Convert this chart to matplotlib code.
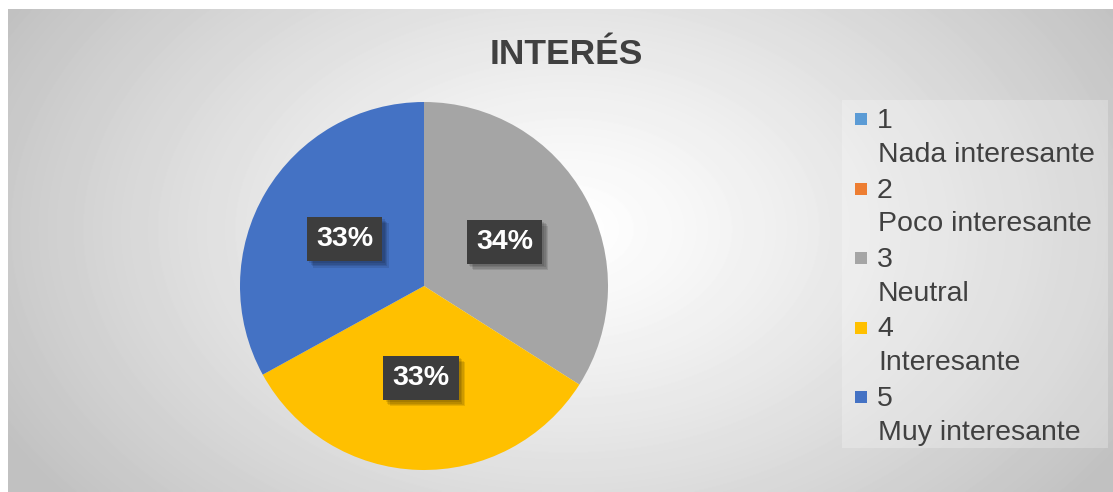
import matplotlib.pyplot as plt
import matplotlib.patheffects as pe
from matplotlib.patches import Rectangle
import numpy as np

plt.rcParams['font.family'] = ['Liberation Sans', 'DejaVu Sans']

# chart data
title = "INTERÉS"
codes = ["1", "2", "3", "4", "5"]
names = ["Nada interesante", "Poco interesante", "Neutral", "Interesante", "Muy interesante"]
values = [0, 0, 34, 33, 33]
colors = ["#5B9BD5", "#ED7D31", "#A5A5A5", "#FFC000", "#4472C4"]

W, H = 1113, 492
fig = plt.figure(figsize=(W / 100, H / 100), dpi=100)


def fx(px):
    return px / W


def fy(py):
    return 1 - py / H


# radial gradient background of the chart area
bg = fig.add_axes([fx(8), 0, 1 - fx(8), 1 - 9 / H])
yy, xx = np.mgrid[0:483, 0:1105]
d = np.sqrt(((xx - 560) / 640.0) ** 2 + ((yy - 220) / 430.0) ** 2)
shade = 1 - 0.24 * np.clip(d, 0, 1) ** 1.2
bg.imshow(shade, cmap='gray', vmin=0, vmax=1, aspect='auto', interpolation='bilinear')
bg.axis('off')

# pie
ax = fig.add_axes([fx(240), fy(470), 368 / W, 368 / H])
nz = [i for i, v in enumerate(values) if v > 0]
wedges, texts, autotexts = ax.pie(
    [values[i] for i in nz], colors=[colors[i] for i in nz],
    startangle=90, counterclock=False, autopct='%1.0f%%', pctdistance=0.5,
    textprops=dict(color='white', fontsize=20.5, fontweight='bold'))
ax.set_xlim(-1, 1)
ax.set_ylim(-1, 1)
# soft shadow made of a few offset copies
shadow = [pe.withSimplePatchShadow(offset=(k, -k), shadow_rgbFace='black', alpha=0.1)
          for k in (4.5, 3.5, 2.5, 1.5)]
for t in autotexts:
    t.set_bbox(dict(boxstyle='square,pad=0.32', facecolor='#3d3d3d', edgecolor='none'))
    t.get_bbox_patch().set_path_effects(shadow + [pe.Normal()])

# title
fig.text(fx(566), fy(64), title, ha='center', va='baseline', fontsize=25.5,
         fontweight='bold', color='#404040')

# legend
fig.patches.append(Rectangle((fx(842), fy(448)), (1108 - 842) / W, (448 - 100) / H,
                             transform=fig.transFigure, facecolor='white',
                             alpha=0.25, edgecolor='none'))
for i, (c, n, col) in enumerate(zip(codes, names, colors)):
    base = 128 + 69.5 * i
    fig.patches.append(Rectangle((fx(855), fy(base - 3)), 12 / W, 12 / H,
                                 transform=fig.transFigure, facecolor=col,
                                 edgecolor='none'))
    fig.text(fx(877), fy(base), c, va='baseline', fontsize=20.5, color='#404040')
    fig.text(fx(878), fy(base + 34), n, va='baseline', fontsize=20.5, color='#404040')

fig.savefig('out.png', dpi=100)
